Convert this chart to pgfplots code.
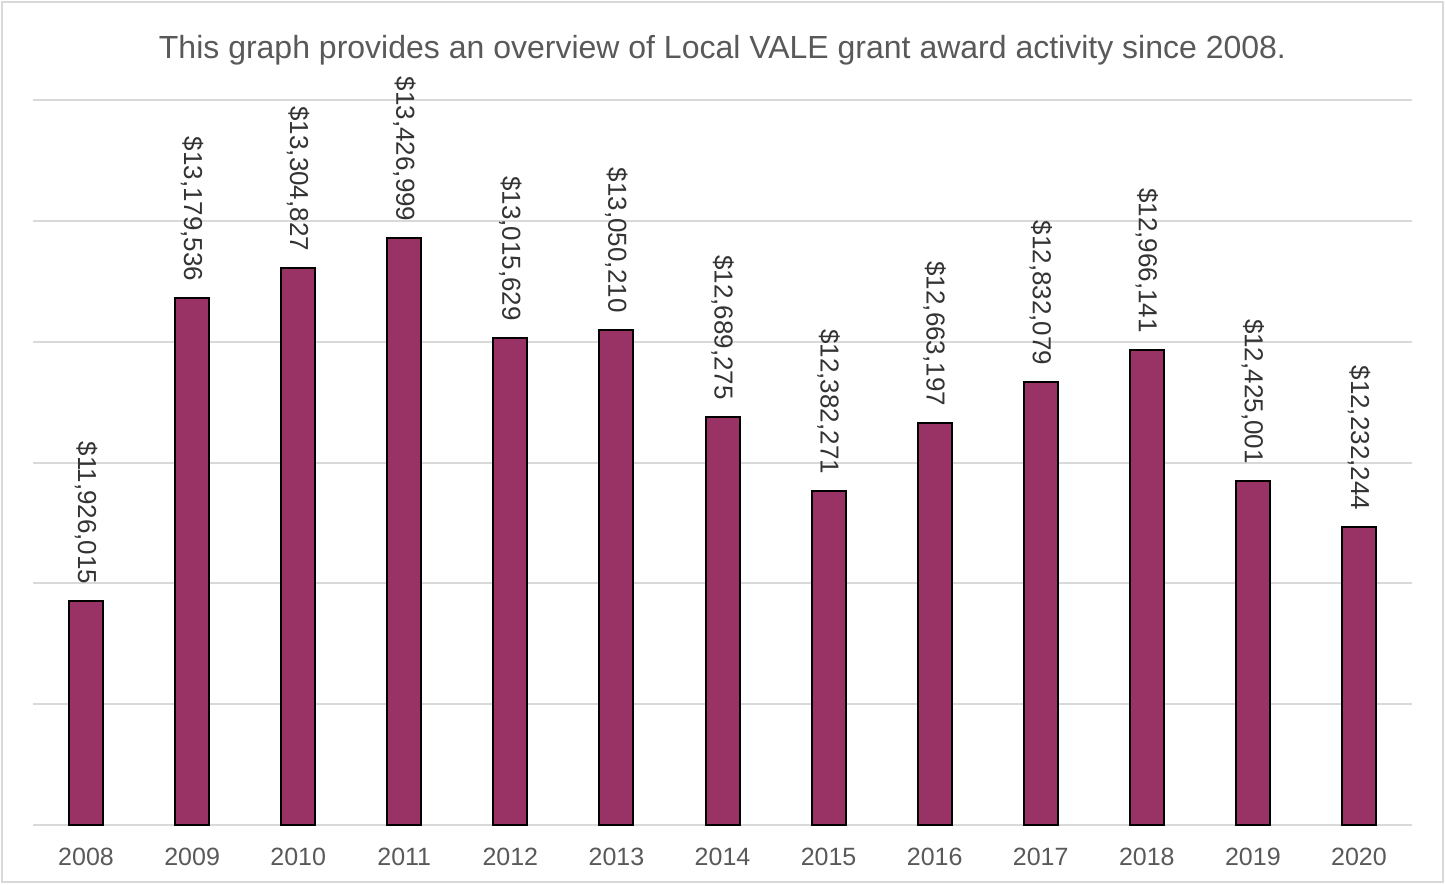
\documentclass[border=0pt]{standalone}
\usepackage{pgfplots}
\pgfplotsset{compat=1.18}
\usepackage{fontspec}
\setmainfont{Liberation Sans}
\definecolor{barcol}{RGB}{153,51,102}
\definecolor{txtgray}{RGB}{89,89,89}
\definecolor{gridgray}{RGB}{217,217,217}
\begin{document}
\begin{tikzpicture}
\begin{axis}[
  scale only axis,
  width=689.5pt, height=362.5pt,
  xmin=-0.5, xmax=12.5,
  ymin=11000000, ymax=14000000,
  scaled y ticks=false,
  ytick={11000000,11500000,12000000,12500000,13000000,13500000,14000000},
  yticklabels={},
  ymajorgrids,
  major grid style={draw=gridgray, line width=1pt},
  axis line style={draw=none},
  major tick length=0pt,
  xtick={0,...,12},
  xticklabels={2008,2009,2010,2011,2012,2013,2014,2015,2016,2017,2018,2019,2020},
  xticklabel style={font=\fontsize{12.5}{14}\selectfont, text=txtgray, yshift=-8pt},
  clip=false,
]
\addplot[ybar, bar width=17pt, fill=barcol, draw=black, line width=1pt,
  point meta=explicit symbolic,
  nodes near coords,
  every node near coord/.append style={rotate=-90, anchor=east, font=\fontsize{13}{15}\selectfont, text=black!80, inner sep=1pt, xshift=-7pt},
] coordinates {
 (0,11926015) [\$11,926,015]
 (1,13179536) [\$13,179,536]
 (2,13304827) [\$13,304,827]
 (3,13426999) [\$13,426,999]
 (4,13015629) [\$13,015,629]
 (5,13050210) [\$13,050,210]
 (6,12689275) [\$12,689,275]
 (7,12382271) [\$12,382,271]
 (8,12663197) [\$12,663,197]
 (9,12832079) [\$12,832,079]
 (10,12966141) [\$12,966,141]
 (11,12425001) [\$12,425,001]
 (12,12232244) [\$12,232,244]
};
\node[font=\fontsize{16}{19}\selectfont, text=txtgray] at (rel axis cs:0.5,1) [yshift=25pt] {This graph provides an overview of Local VALE grant award activity since 2008.};
\draw[gridgray, line width=1pt] ([xshift=-15.5pt,yshift=-28.5pt]rel axis cs:0,0) rectangle ([xshift=15.5pt,yshift=49pt]rel axis cs:1,1);
\path ([xshift=-16.5pt,yshift=-29.5pt]rel axis cs:0,0) rectangle ([xshift=16.5pt,yshift=50pt]rel axis cs:1,1);
\end{axis}
\end{tikzpicture}
\end{document}
